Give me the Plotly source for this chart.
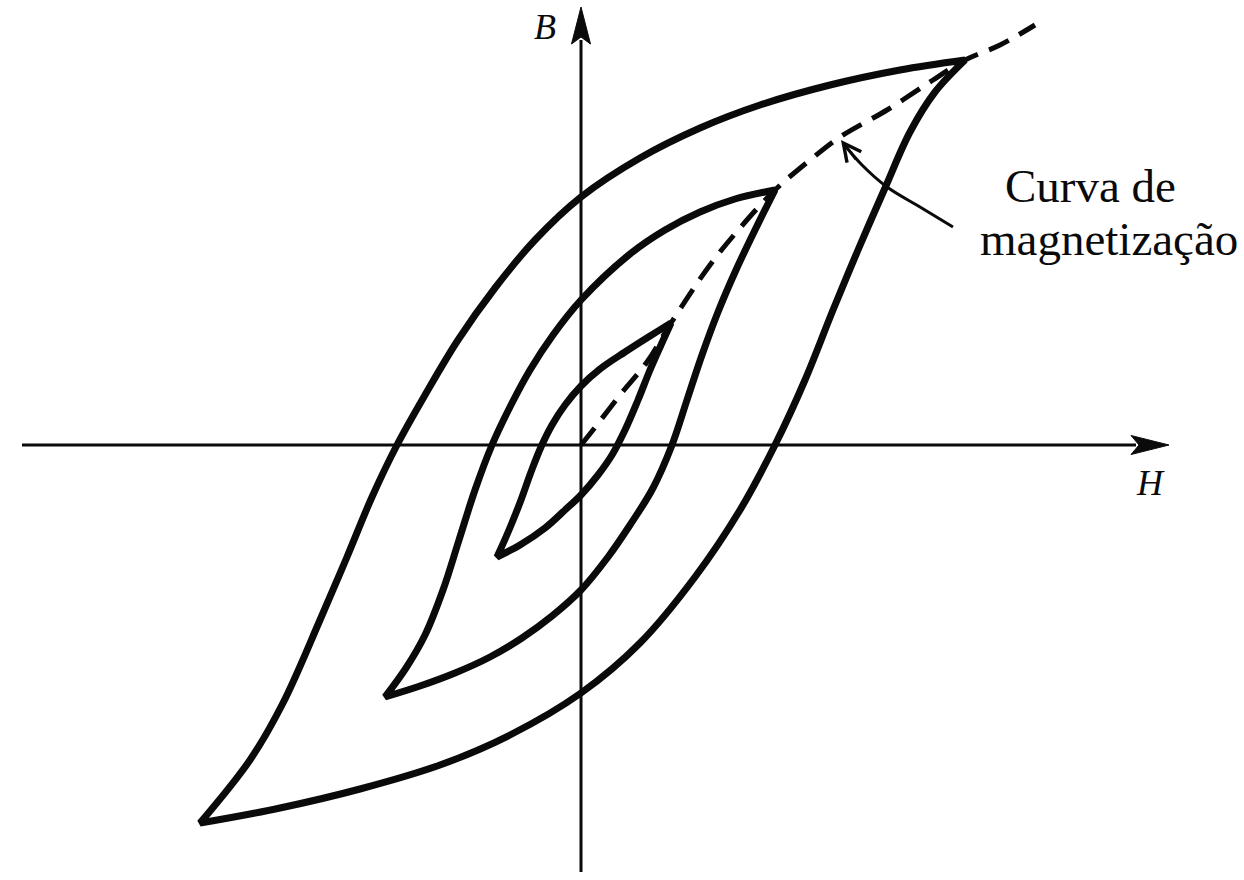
import plotly.graph_objects as go

# Hysteresis loops: field strength H and flux density B (arbitrary units).
# Each loop has a descending branch (from +tip to -tip) and an ascending one.
big_desc_H = [3.84, 3.19, 2.49, 1.79, 1.19, 0.59, 0.00, -0.46, -0.86, -1.23, -1.56, -1.84, -2.09, -2.34, -2.61, -2.98, -3.31, -3.81]
big_desc_B = [3.85, 3.75, 3.60, 3.40, 3.17, 2.87, 2.48, 2.05, 1.57, 1.05, 0.50, 0.00, -0.52, -1.12, -1.75, -2.58, -3.15, -3.78]
big_asc_H = [-3.81, -3.01, -2.21, -1.41, -0.71, 0.00, 0.59, 1.14, 1.59, 1.94, 2.24, 2.52, 2.77, 3.04, 3.29, 3.54, 3.84]
big_asc_B = [-3.78, -3.63, -3.44, -3.20, -2.90, -2.48, -1.98, -1.32, -0.65, 0.00, 0.65, 1.35, 1.95, 2.57, 3.13, 3.53, 3.85]

mid_desc_H = [1.94, 1.54, 1.19, 0.84, 0.49, 0.00, -0.28, -0.51, -0.70, -0.89, -1.06, -1.22, -1.38, -1.56, -1.75, -1.96]
mid_desc_B = [2.55, 2.46, 2.33, 2.15, 1.91, 1.45, 1.10, 0.75, 0.40, 0.00, -0.45, -0.95, -1.45, -1.90, -2.23, -2.52]
mid_asc_H = [-1.96, -1.61, -1.26, -0.91, -0.59, -0.29, 0.00, 0.27, 0.49, 0.72, 0.91, 1.06, 1.21, 1.37, 1.55, 1.74, 1.94]
mid_asc_B = [-2.52, -2.41, -2.28, -2.12, -1.93, -1.71, -1.45, -1.12, -0.80, -0.43, 0.00, 0.45, 0.90, 1.33, 1.75, 2.15, 2.55]

small_desc_H = [0.90, 0.69, 0.44, 0.19, 0.00, -0.16, -0.29, -0.40, -0.50, -0.60, -0.72, -0.84]
small_desc_B = [1.22, 1.09, 0.93, 0.76, 0.59, 0.40, 0.20, -0.02, -0.27, -0.55, -0.85, -1.12]
small_asc_H = [-0.84, -0.61, -0.36, -0.16, 0.00, 0.17, 0.31, 0.44, 0.57, 0.69, 0.80, 0.90]
small_asc_B = [-1.12, -1.00, -0.83, -0.65, -0.50, -0.30, -0.10, 0.15, 0.45, 0.75, 1.00, 1.22]

# Initial magnetization curve through the loop tips
mag_H = [0.00, 0.12, 0.39, 0.66, 0.90, 1.29, 1.59, 1.94, 2.29, 2.59, 3.06, 3.52, 3.84, 4.19, 4.54]
mag_B = [0.00, 0.15, 0.50, 0.83, 1.22, 1.80, 2.17, 2.55, 2.85, 3.08, 3.35, 3.65, 3.85, 4.00, 4.20]

# Curved pointer from the label to the magnetization curve
pointer_H = [3.72, 3.39, 3.06, 2.81, 2.62]
pointer_B = [2.18, 2.38, 2.58, 2.80, 3.02]

label_lines = ["Curva de", "magnetização"]
axis_labels = ["B", "H"]

INK = "#0a0a0a"

fig = go.Figure()

fig.add_trace(go.Scatter(
    x=mag_H, y=mag_B, mode="lines",
    line=dict(color=INK, width=5, dash="22px,12px", shape="spline", simplify=False),
    hoverinfo="skip"))

for dh, db, ah, ab in [
    (big_desc_H, big_desc_B, big_asc_H, big_asc_B),
    (mid_desc_H, mid_desc_B, mid_asc_H, mid_asc_B),
    (small_desc_H, small_desc_B, small_asc_H, small_asc_B),
]:
    # start mid-branch so both tips are interior corners; repeating each tip
    # keeps the spline pointed there
    k = len(dh) // 2
    hh = dh[k:] + [ah[0]] + ah + [dh[0]] + dh[1:k + 1]
    bb = db[k:] + [ab[0]] + ab + [db[0]] + db[1:k + 1]
    fig.add_trace(go.Scatter(
        x=hh, y=bb, mode="lines",
        line=dict(color=INK, width=7, shape="spline", simplify=False),
        hoverinfo="skip"))

fig.add_trace(go.Scatter(
    x=pointer_H, y=pointer_B, mode="lines",
    line=dict(color=INK, width=3, shape="spline"),
    hoverinfo="skip"))

# Coordinate axes with arrowheads
shapes = [
    dict(type="line", x0=-5.59, y0=0, x1=5.55, y1=0, line=dict(color=INK, width=3)),
    dict(type="line", x0=0, y0=-4.27, x1=0, y1=4.05, line=dict(color=INK, width=3)),
    dict(type="path", path="M 5.88 0 L 5.50 0.095 L 5.58 0 L 5.50 -0.095 Z",
         fillcolor=INK, line=dict(color=INK, width=1)),
    dict(type="path", path="M 0 4.38 L 0.095 4.01 L 0 4.08 L -0.095 4.01 Z",
         fillcolor=INK, line=dict(color=INK, width=1)),
]

annotations = [
    dict(x=2.60, y=3.05, ax=2.76, ay=2.84, xref="x", yref="y", axref="x", ayref="y",
         text="", showarrow=True, arrowhead=5, arrowsize=1.4, arrowwidth=2.5,
         arrowcolor=INK, standoff=0),
    dict(x=5.09, y=2.59, text=label_lines[0], showarrow=False,
         font=dict(family="Liberation Serif", size=47, color=INK)),
    dict(x=5.28, y=2.06, text=label_lines[1], showarrow=False,
         font=dict(family="Liberation Serif", size=47, color=INK)),
    dict(x=-0.36, y=4.18, text="<i>" + axis_labels[0] + "</i>", showarrow=False,
         font=dict(family="Liberation Serif", size=36, color=INK)),
    dict(x=5.69, y=-0.38, text="<i>" + axis_labels[1] + "</i>", showarrow=False,
         font=dict(family="Liberation Serif", size=36, color=INK)),
]

fig.update_layout(
    width=1244, height=880,
    margin=dict(l=0, r=0, t=0, b=0, pad=0),
    paper_bgcolor="white", plot_bgcolor="white",
    showlegend=False,
    shapes=shapes, annotations=annotations,
    xaxis=dict(range=[-5.81, 6.63], visible=False, fixedrange=True),
    yaxis=dict(range=[-4.35, 4.45], visible=False, fixedrange=True),
)

fig.write_html("out.html")
